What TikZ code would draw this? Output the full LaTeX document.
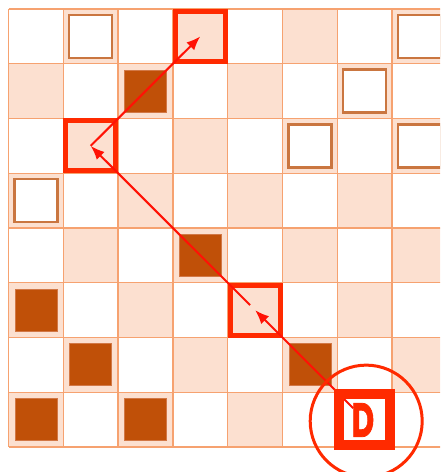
\documentclass[tikz,border=0pt]{standalone}
\usepackage{fontspec}
\newfontfamily\dfont{Poppins}[FakeBold=1.6]
\usetikzlibrary{arrows.meta}
\definecolor{cellshade}{RGB}{252,224,208}
\definecolor{gridc}{RGB}{246,162,112}
\definecolor{darkp}{RGB}{192,80,8}
\definecolor{darkpe}{RGB}{210,120,70}
\definecolor{hollowe}{RGB}{202,118,64}
\definecolor{boxred}{RGB}{255,42,0}
\definecolor{arrred}{RGB}{255,18,5}
\tikzset{
  gridline/.style={draw=gridc, line width=1.4pt},
  hollow/.style={rectangle, draw=hollowe, line width=2.4pt, fill=white, minimum size=43pt, inner sep=0pt},
  darkpiece/.style={rectangle, draw=darkpe, line width=0.8pt, fill=darkp, minimum size=42pt, inner sep=0pt},
  redbox/.style={rectangle, draw=boxred, line width=5pt, minimum size=50pt, inner sep=0pt},
  dbox/.style={rectangle, draw=boxred, line width=10pt, minimum size=51pt, inner sep=0pt},
  ring/.style={circle, draw=boxred, line width=3pt, minimum size=112pt, inner sep=0pt},
  movearrow/.style={draw=arrred, line width=2pt, -{Latex[length=14pt,width=11pt]}},
}
\begin{document}
\begin{tikzpicture}[x=1pt,y=-1pt]
\useasboundingbox (0,0) rectangle (440,472);
\clip (0,0) rectangle (440,472);
\fill[white] (0,0) rectangle (440,472);
% checkerboard
\foreach \r in {0,...,7}{
  \foreach \c in {0,...,7}{
    \pgfmathtruncatemacro\odd{mod(\r+\c,2)}
    \ifnum\odd=1
      \fill[cellshade] (8.5+\c*54.8, 9+\r*54.75) rectangle ++(54.8,54.75);
    \fi
    \coordinate (c\r\c) at (8.5+\c*54.8+27.4, 9+\r*54.75+27.375);
  }
}
% grid
\foreach \i in {0,...,8}{
  \draw[gridline] (8.5+\i*54.8, 9) -- (8.5+\i*54.8, 447);
  \draw[gridline] (8.5, 9+\i*54.75) -- (446.9, 9+\i*54.75);
}
% hollow pieces
\foreach \p in {01,07,16,25,27,30,76}{
  \node[hollow] (h\p) at (c\p) {};
}
% dark pieces
\foreach \p in {12,43,50,61,65,70,72}{
  \node[darkpiece] (d\p) at (c\p) {};
}
% red boxes
\node[redbox] (b03) at (c03) {};
\node[redbox] (b21) at (c21) {};
\node[redbox] (b54) at (c54) {};
% arrows
\path (c76) ++(-11.5,-11.5) coordinate (s1);
\path (c54) ++(-5,-5) coordinate (s2);
\draw[movearrow] (s1) -- (c54);
\draw[movearrow] (s2) -- (c21);
\draw[movearrow] (c21) -- (c03);
% D box and ring
\node[dbox] (b76) at (c76) {};
\path (c76) ++(1.5,1.5) coordinate (ringc);
\node[ring] (ring) at (ringc) {};
\node[text=boxred, font=\dfont\bfseries\fontsize{48}{48}\selectfont, xscale=0.64, inner sep=0pt] (dlabel) at (363,420) {D};
\end{tikzpicture}
\end{document}
